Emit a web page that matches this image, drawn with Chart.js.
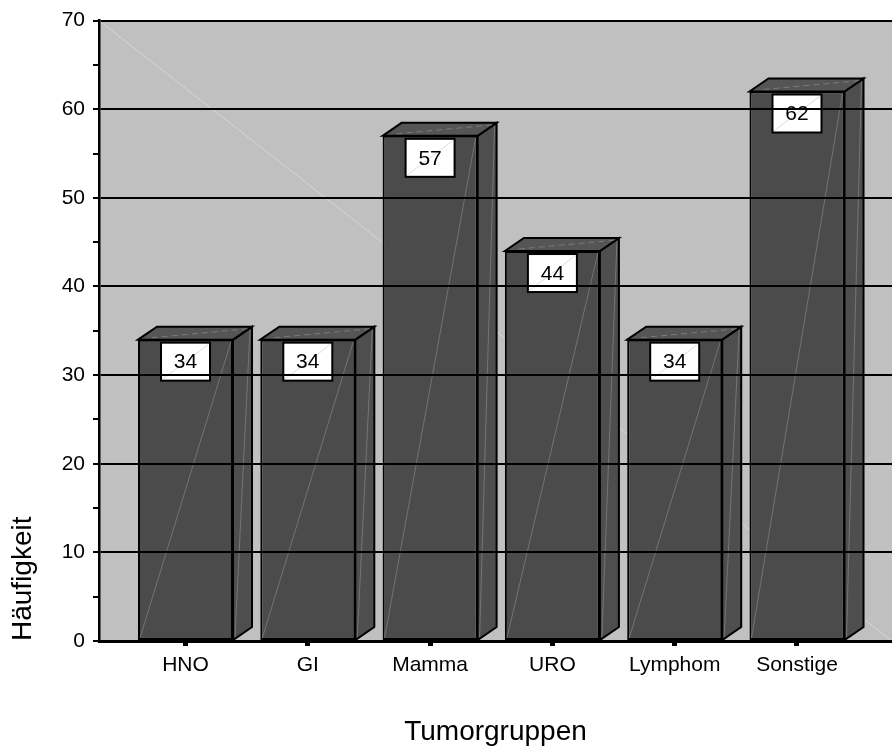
<!DOCTYPE html>
<html>
<head>
<meta charset="utf-8">
<title>Tumorgruppen</title>
<script src="https://cdn.jsdelivr.net/npm/chart.js@4.4.1/dist/chart.umd.min.js"></script>
<style>
  html, body { margin: 0; padding: 0; background: #ffffff; }
  canvas { display: block; }
</style>
</head>
<body>
<canvas id="chart" width="892" height="749"></canvas>
<script>
// Anzahl der Patienten je Tumorgruppe
const categories = ['HNO', 'GI', 'Mamma', 'URO', 'Lymphom', 'Sonstige'];
const counts = [34, 34, 57, 44, 34, 62];

// y-Achse: 0 bis 70, Teilstriche alle 5, Beschriftung alle 10
const yMin = 0;
const yMax = 70;
const yMinorStep = 5;
const yMajorStep = 10;

const FONT = "'Liberation Sans', Arial, Helvetica, sans-serif";

// Pseudo-3D look of the columns
const DEPTH_X = 19;
const DEPTH_Y = -13;
const FRONT_COLOR = '#4b4b4b';
const TOP_COLOR = '#555555';
const SIDE_COLOR = '#4e4e4e';
const WALL_COLOR = '#c0c0c0';

const wallPlugin = {
  id: 'wall',
  beforeDraw(chart) {
    const { ctx, chartArea: a } = chart;
    ctx.save();
    ctx.fillStyle = WALL_COLOR;
    ctx.fillRect(a.left, a.top, a.right - a.left, a.bottom - a.top);
    // faint seam across the back wall
    ctx.strokeStyle = '#d6d6d6';
    ctx.lineWidth = 1;
    ctx.beginPath();
    ctx.moveTo(a.left, a.top);
    ctx.lineTo(a.right, a.bottom);
    ctx.stroke();
    ctx.restore();
  }
};

const columnPlugin = {
  id: 'columns3d',
  afterDatasetsDraw(chart) {
    const { ctx } = chart;
    const meta = chart.getDatasetMeta(0);
    ctx.save();
    meta.data.forEach((bar, i) => {
      const { x, y, base, width } = bar.getProps(['x', 'y', 'base', 'width'], true);
      const L = x - width / 2;
      const R = x + width / 2;

      ctx.lineJoin = 'miter';
      ctx.strokeStyle = '#000';
      ctx.lineWidth = 2;

      // side face
      ctx.beginPath();
      ctx.moveTo(R, y);
      ctx.lineTo(R + DEPTH_X, y + DEPTH_Y);
      ctx.lineTo(R + DEPTH_X, base + DEPTH_Y);
      ctx.lineTo(R, base);
      ctx.closePath();
      ctx.fillStyle = SIDE_COLOR;
      ctx.fill();
      ctx.stroke();

      // top face
      ctx.beginPath();
      ctx.moveTo(L, y);
      ctx.lineTo(L + DEPTH_X, y + DEPTH_Y);
      ctx.lineTo(R + DEPTH_X, y + DEPTH_Y);
      ctx.lineTo(R, y);
      ctx.closePath();
      ctx.fillStyle = TOP_COLOR;
      ctx.fill();
      ctx.stroke();

      // light seams on the faces
      ctx.lineWidth = 1;
      ctx.strokeStyle = 'rgba(255,255,255,0.22)';
      ctx.beginPath();
      ctx.moveTo(L + 2, base - 2);
      ctx.lineTo(R - 2, y + 2);
      ctx.stroke();
      ctx.beginPath();
      ctx.moveTo(R + 2, base - 3);
      ctx.lineTo(R + DEPTH_X - 2, y + DEPTH_Y + 3);
      ctx.stroke();
      ctx.setLineDash([6, 4]);
      ctx.beginPath();
      ctx.moveTo(L + 14, y - 2);
      ctx.lineTo(R + DEPTH_X - 3, y + DEPTH_Y + 2);
      ctx.stroke();
      ctx.setLineDash([]);

      // value label in a white box
      const bw = 49, bh = 38;
      const bx = x - bw / 2;
      const by = y + 3;
      ctx.fillStyle = '#ffffff';
      ctx.fillRect(bx, by, bw, bh);
      ctx.strokeStyle = '#dcdcdc';
      ctx.lineWidth = 1;
      ctx.beginPath();
      ctx.moveTo(bx + 2, by + bh - 2);
      ctx.lineTo(bx + bw - 2, by + 2);
      ctx.stroke();
      ctx.strokeStyle = '#000';
      ctx.lineWidth = 2;
      ctx.strokeRect(bx, by, bw, bh);
      ctx.fillStyle = '#000';
      ctx.font = '21px ' + FONT;
      ctx.textAlign = 'center';
      ctx.textBaseline = 'middle';
      ctx.fillText(String(counts[i]), x, by + bh / 2 + 1);
    });
    ctx.restore();
  }
};

new Chart(document.getElementById('chart'), {
  type: 'bar',
  data: {
    datasets: [{
      data: counts.map((v, i) => ({ x: i, y: v })),
      backgroundColor: FRONT_COLOR,
      borderColor: '#000',
      borderWidth: 2,
      borderSkipped: false,
      barPercentage: 0.777,
      categoryPercentage: 1
    }]
  },
  options: {
    responsive: false,
    animation: false,
    events: [],
    layout: { padding: { top: 20, right: 0, bottom: 0, left: 0 } },
    plugins: {
      legend: { display: false },
      tooltip: { enabled: false }
    },
    scales: {
      x: {
        type: 'linear',
        min: -0.7073,
        max: 5.7768,
        offset: false,
        afterBuildTicks(scale) {
          scale.ticks = categories.map((c, i) => ({ value: i }));
        },
        afterFit(scale) { scale.height = 108; },
        ticks: {
          callback: (v) => categories[v] ?? '',
          autoSkip: false,
          maxRotation: 0,
          color: '#000',
          padding: 7,
          font: { family: FONT, size: 21 }
        },
        grid: {
          offset: false,
          drawOnChartArea: false,
          drawTicks: true,
          tickLength: 5,
          tickWidth: 5,
          tickColor: '#000',
          z: 1
        },
        border: { display: true, color: '#000', width: 3, z: 1 },
        title: {
          display: true,
          text: 'Tumorgruppen',
          color: '#000',
          font: { family: FONT, size: 28, lineHeight: 1.2 },
          padding: { top: 0, bottom: 0 }
        }
      },
      y: {
        min: yMin,
        max: yMax,
        afterFit(scale) { scale.width = 99; },
        ticks: {
          stepSize: yMinorStep,
          callback: (v) => (v % yMajorStep === 0 ? String(v) : ''),
          color: '#000',
          padding: 8,
          font: { family: FONT, size: 21 }
        },
        grid: {
          color: (ctx) => (ctx.tick && ctx.tick.value % yMajorStep === 0 ? '#000' : 'rgba(0,0,0,0)'),
          lineWidth: 2,
          drawTicks: true,
          tickLength: 6,
          tickWidth: 2,
          tickColor: '#000',
          z: 1
        },
        border: { display: true, color: '#000', width: 2.5, z: 1 },
        title: {
          display: true,
          text: 'Häufigkeit',
          align: 'start',
          color: '#000',
          font: { family: FONT, size: 28, lineHeight: 1.2 },
          padding: { top: 6, bottom: 0 }
        }
      }
    }
  },
  plugins: [wallPlugin, columnPlugin]
});
</script>
</body>
</html>
